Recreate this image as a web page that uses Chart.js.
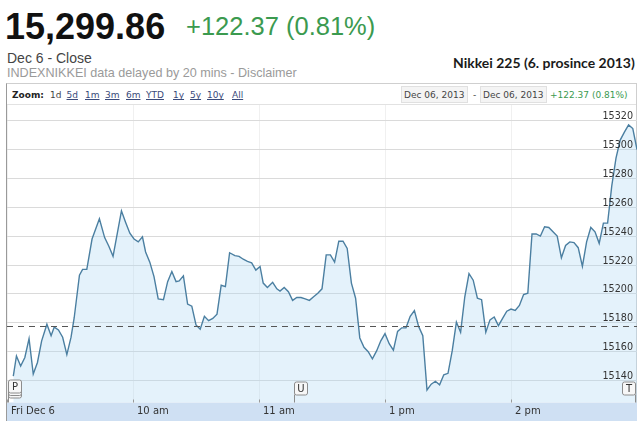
<!DOCTYPE html>
<html><head><meta charset="utf-8">
<script src="https://cdn.jsdelivr.net/npm/chart.js@4.4.1/dist/chart.umd.min.js"></script>
<style>
html,body{margin:0;padding:0;background:#fff;width:640px;height:421px;overflow:hidden;position:relative;}
.t{position:absolute;white-space:nowrap;line-height:1;}
.tb{position:absolute;white-space:nowrap;line-height:1;font:9px 'DejaVu Sans',Verdana,sans-serif;color:#333;}
.lk{text-decoration:underline;color:#3a4a7a;}
.box{position:absolute;background:#f4f4f4;border:1px solid #e0e0e0;box-sizing:border-box;}
#frame{position:absolute;left:6px;top:83px;width:631px;height:338px;border-left:1px solid #9a9a9a;border-top:1px solid #cfcfcf;border-right:1px solid #cfcfcf;box-sizing:border-box;}
#sep{position:absolute;left:7px;top:104px;width:629px;height:1px;background:#e2e2e2;}
#cv{position:absolute;left:0;top:104px;}
</style></head><body>
<div class="t" style="left:5px;top:5.5px;font:bold 36px 'Liberation Sans',Arial,sans-serif;color:#111;">15,299.86</div>
<div class="t" style="left:186px;top:12.4px;font:25.5px 'Liberation Sans',Arial,sans-serif;color:#3b9a4f;">+122.37 (0.81%)</div>
<div class="t" style="left:7px;top:49.6px;font:14px 'Liberation Sans',Arial,sans-serif;color:#444;">Dec 6 - Close</div>
<div class="t" style="left:7px;top:65.8px;font:12.6px 'Liberation Sans',Arial,sans-serif;color:#9a9a9a;">INDEXNIKKEI data delayed by 20 mins - Disclaimer</div>
<div class="t" id="title" style="font:bold 13px Lato,sans-serif;color:#1a1a1a;">Nikkei 225 (6. prosince 2013)</div>
<div id="frame"></div>
<div id="sep"></div>
<div class="tb" style="left:12px;top:90.4px;font-weight:bold;color:#222;">Zoom:</div>
<div id="zoomLinks"></div>
<div class="box" style="left:401px;top:86px;width:67px;height:17px;"></div>
<div class="box" style="left:480px;top:86px;width:67px;height:17px;"></div>
<div class="tb" style="left:404px;top:90.4px;color:#444;">Dec 06, 2013</div>
<div class="tb" style="left:473px;top:90.4px;color:#444;">-</div>
<div class="tb" style="left:483px;top:90.4px;color:#444;">Dec 06, 2013</div>
<div class="tb" style="left:550px;top:90.4px;color:#3b9a4f;">+122.37 (0.81%)</div>
<canvas id="cv" width="640" height="317"></canvas>
<script>
// ---- data ----
const zoomLabels = ['1d','5d','1m','3m','6m','YTD','1y','5y','10y','All'];
const times = [3,4.5,6.5,8.5,10.5,12.5,14.5,16.5,19,21,22.5,24.5,26.5,28.5,30.5,32,34.5,36,38,40.5,44,46.5,48.5,50.5,54.5,56.5,58.5,60.5,62.5,64.5,66,68,70,72,74.5,76.5,78.5,80.5,82,84,86,88,90,92,
94,96,98,100,102,104,106,108.5,110.5,112.5,114.5,116.5,118.5,120.5,122,124,126.5,128.5,130,132,134,136,138,140,142,144,146,148,150,152,154,156,158,160,162,164,166,168,170,172,174,176,178,180,182,184,186,188,190,192,194,
196,198,200,202,204,206,208,210,212,214,216,218,220,222,224,226,228,230,232,234,236,238,240,242,244,246,248,250,252,254,256,258,260,262,264,266,268,270,272,274,276,278,280,282,284,286,288,290,292,294,296,298,300];
const prices = [15143,15157,15150,15156,15169,15144.5,15152.5,15167.5,15179,15171,15177,15175,15170,15158,15170,15183.5,15213,15217,15217,15238,15252,15239,15233,15226,15257.5,15249.5,15242,15238,15236,15239.5,15229,15222,15212,15196.5,15196,15208.5,15215.5,15208.5,15209,15212.5,15193,15191.5,15178.5,15175.5,
15184.5,15181.5,15183,15186,15206,15205,15228.5,15226.5,15226,15224,15222.5,15221.5,15216.5,15219,15207.5,15204.5,15208,15203.5,15202,15204.5,15201.5,15195.5,15197.5,15197.5,15196.5,15195.5,15198,15200.5,15203.5,15227,15227,15222,15236.5,15236.5,15231.5,15207.5,15197,15169.5,15163,15160,15155,15160.5,15167.5,15172.5,15165.5,15161,15174,15176.5,15176.5,15184.5,15188.5,
15177.5,15171,15133.5,15137.5,15139.5,15137,15144,15145,15160.5,15180.5,15173.5,15198,15214,15209.5,15197,15196,15173.5,15182,15184,15178,15183,15188,15189.5,15188.5,15192,15199.5,15200.5,15241.5,15241.5,15240,15246.5,15246,15243,15240,15225,15233.5,15236,15235.5,15232,15219,15236,15246,15243,15235,15249,15249,15275,15294,15306.5,15312,15317,15314.5,15299.86];
const yTicks = [15140,15160,15180,15200,15220,15240,15260,15280,15300,15320];
const xTickValues = [0,60,120,180,240];
const xTickLabels = ['Fri Dec 6','10 am','11 am','1 pm','2 pm'];
const prevClose = 15177.49;
const flagLabels = ['P','U','T'];
const flagTimes = [0,136,300];

// ---- header helpers ----
const zoomX = [50,66.5,85,105,126,146,173,190,207,232];
const zl = document.getElementById('zoomLinks');
zoomLabels.forEach((l,i)=>{
  const d=document.createElement('div');
  d.className='tb'+(i===0?'':' lk');
  d.style.left=zoomX[i]+'px'; d.style.top='90.4px';
  if(i===0) d.style.color='#444';
  d.textContent=l; zl.appendChild(d);
});
(function(){
  const el=document.getElementById('title');
  const c=document.createElement('canvas').getContext('2d');
  c.font='bold 13px Lato'; const w=c.measureText(el.textContent).width;
  const fs=13*182/w;
  el.style.fontSize=fs+'px';
  el.style.left=(635-182)+'px';
  el.style.top=(66-0.887*fs)+'px';
})();

// ---- chart ----
const deco = {
  id:'deco',
  beforeDraw(c){
    const {ctx,chartArea:a}=c;
    ctx.save();
    ctx.fillStyle='#cfe0f3';
    ctx.fillRect(a.left, a.bottom, a.right-a.left, c.height-a.bottom);
    ctx.restore();
  },
  afterDatasetsDraw(c){
    const {ctx,chartArea:a,scales:{x,y}}=c;
    ctx.save();
    // previous close dashed line
    const py=Math.round(y.getPixelForValue(prevClose))+0.5;
    ctx.strokeStyle='#555'; ctx.lineWidth=1; ctx.setLineDash([6,5]);
    ctx.beginPath(); ctx.moveTo(a.left,py); ctx.lineTo(a.right,py); ctx.stroke();
    ctx.setLineDash([]);
    // x tick marks
    ctx.strokeStyle='#999';
    xTickValues.forEach(v=>{const px=Math.round(x.getPixelForValue(v))+0.5;
      ctx.beginPath(); ctx.moveTo(px,a.bottom-3); ctx.lineTo(px,a.bottom); ctx.stroke();});
    // y labels inside plot
    ctx.fillStyle='#333'; ctx.font='9.6px "DejaVu Sans", Verdana, sans-serif';
    ctx.textAlign='right'; ctx.textBaseline='alphabetic';
    y.ticks.forEach(t=>{ctx.fillText(String(t.value), a.right-4, y.getPixelForValue(t.value)-1.5);});
    // flags
    const drawBox=(bx,by,w,h)=>{
      ctx.fillStyle='#f7f7f7'; ctx.strokeStyle='#8c8c8c'; ctx.lineWidth=1;
      ctx.beginPath(); ctx.roundRect(bx+0.5,by+0.5,w,h,2); ctx.fill(); ctx.stroke();
    };
    flagLabels.forEach((lab,i)=>{
      const fx=Math.round(x.getPixelForValue(flagTimes[i]));
      const w=13,h=13;
      const bottom=a.bottom-8;
      let bx = (i===flagLabels.length-1) ? fx-w-2 : fx+1;
      let by = bottom-h;
      if(i===0){
        by -= 2;
        drawBox(bx,by+5,w,h); drawBox(bx,by+2.5,w,h);
      }
      ctx.strokeStyle='#8c8c8c';
      ctx.beginPath();
      const poleX=(i===flagLabels.length-1)? fx-1.5 : fx+1.5;
      ctx.moveTo(poleX,by+h); ctx.lineTo(poleX,a.bottom); ctx.stroke();
      drawBox(bx,by,w,h);
      ctx.fillStyle='#333'; ctx.font='10px "DejaVu Sans", Verdana, sans-serif';
      ctx.textAlign='center'; ctx.textBaseline='middle';
      ctx.fillText(lab,bx+w/2+0.5,by+h/2+1);
    });
    ctx.restore();
  }
};

new Chart(document.getElementById('cv'),{
  type:'line',
  data:{datasets:[{
    data: times.map((t,i)=>({x:t,y:prices[i]})),
    borderColor:'#4b7fa1', borderWidth:1.4,
    backgroundColor:'rgba(176,216,242,0.34)',
    fill:'start', pointRadius:0, tension:0
  }]},
  options:{
    responsive:false, animation:false, maintainAspectRatio:false,
    layout:{padding:{left:7,right:3,top:1,bottom:0.5}},
    plugins:{legend:{display:false},tooltip:{enabled:false}},
    scales:{
      x:{type:'linear',min:0,max:300,position:'bottom',
        afterBuildTicks:s=>{s.ticks=xTickValues.map(v=>({value:v}));},
        ticks:{autoSkip:false,maxRotation:0,align:'start',labelOffset:4,padding:3,
          color:'#333',font:{family:'"DejaVu Sans", Verdana, sans-serif',size:10},
          callback:(v)=>{const i=xTickValues.indexOf(v);return i>=0?xTickLabels[i]:'';}},
        grid:{color:'#f0f0f0',drawTicks:false},
        border:{display:false}},
      y:{type:'linear',position:'right',min:15124.8,max:15330.8,
        afterBuildTicks:s=>{s.ticks=yTicks.map(v=>({value:v}));},
        ticks:{display:false},
        grid:{color:'#dadada',drawTicks:false},
        border:{display:false}}
    }
  },
  plugins:[deco]
});
</script>
</body></html>
